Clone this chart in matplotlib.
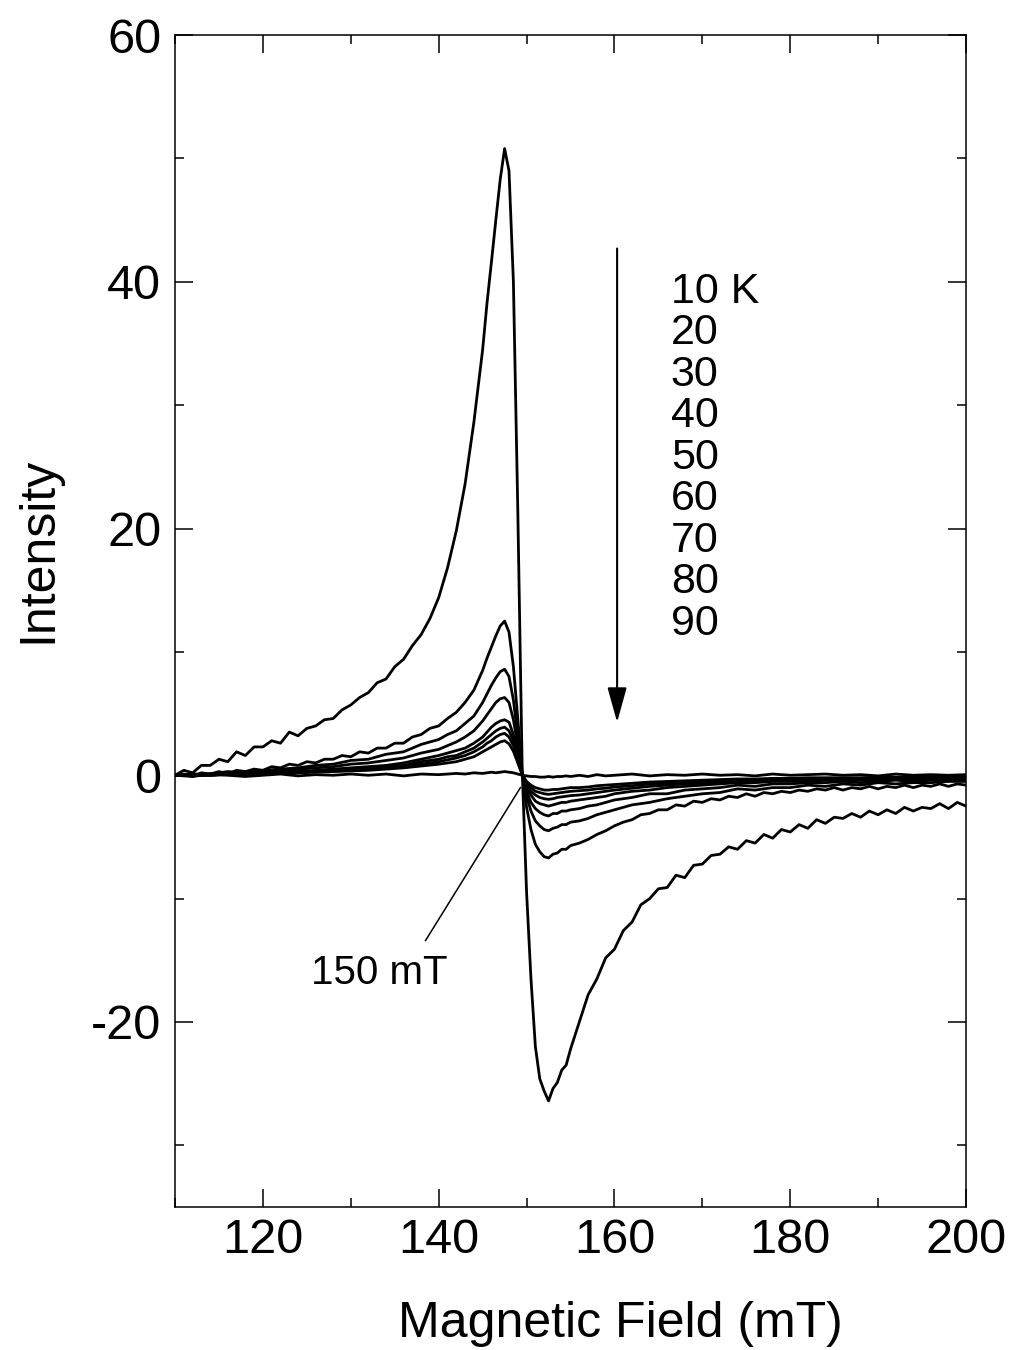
import matplotlib
matplotlib.use("Agg")
import matplotlib.pyplot as plt
from matplotlib.ticker import MultipleLocator

plt.rcParams['font.family'] = ['Liberation Sans', 'DejaVu Sans']
plt.rcParams['axes.unicode_minus'] = False

# field grid for the two strongest spectra (10 K, 20 K)
field_a = ([110, 111, 112, 113, 114, 115, 116, 117, 118, 119, 120, 121, 122, 123, 124,
            125, 126, 127, 128, 129, 130, 131, 132, 133, 134, 135, 136, 137, 138, 139,
            140, 141, 142, 143, 144]
           + [145, 145.5, 146, 146.5, 147, 147.5, 148, 148.5, 149, 149.5, 150, 150.5,
              151, 151.5, 152, 152.5, 153, 153.5, 154, 154.5, 155]
           + [156, 157, 158, 159, 160, 161, 162, 163, 164, 165, 166, 167, 168, 169, 170,
              171, 172, 173, 174, 175, 176, 177, 178, 179, 180, 181, 182, 183, 184, 185,
              186, 187, 188, 189, 190, 191, 192, 193, 194, 195, 196, 197, 198, 199, 200])

t10 = [0.0, 0.4, 0.2, 0.8, 0.8, 1.3, 1.1, 1.9, 1.6, 2.3, 2.3, 2.8, 2.6, 3.5, 3.2,
       3.8, 4.0, 4.5, 4.6, 5.3, 5.7, 6.3, 6.7, 7.5, 7.8, 8.8, 9.4, 10.5, 11.4, 12.7,
       14.4, 16.8, 19.8, 23.6, 28.6,
       34.5, 38.3, 41.6, 45.0, 48.3, 50.8, 49.0, 40.0, 21.5, 0.5, -9.5, -16.5,
       -22.0, -24.6, -25.6, -26.4, -25.4, -24.9, -23.9, -23.5, -22.2,
       -20.0, -17.8, -16.5, -14.8, -14.1, -12.6, -11.9, -10.5, -10.0, -9.2, -9.1, -8.1,
       -8.3, -7.3, -7.2, -6.5, -6.4, -5.8, -6.0, -5.3, -5.5, -4.8, -5.1, -4.4, -4.6,
       -4.0, -4.3, -3.6, -3.9, -3.4, -3.5, -3.1, -3.4, -2.9, -3.2, -2.8, -3.1, -2.6,
       -2.9, -2.6, -2.7, -2.3, -2.7, -2.2, -2.5]

t20 = [0.0, 0.1, -0.1, 0.2, 0.1, 0.3, 0.1, 0.4, 0.3, 0.5, 0.4, 0.7, 0.6, 0.9, 0.8,
       1.1, 1.0, 1.3, 1.3, 1.6, 1.5, 1.9, 1.8, 2.2, 2.2, 2.6, 2.6, 3.1, 3.3, 3.8,
       4.0, 4.6, 5.1, 5.9, 6.9,
       8.5, 9.5, 10.4, 11.3, 12.1, 12.5, 11.6, 8.8, 4.6, 0.2, -2.6, -4.4,
       -5.6, -6.2, -6.6, -6.7, -6.4, -6.3, -6.0, -6.0, -5.7,
       -5.5, -5.2, -4.8, -4.5, -4.1, -3.8, -3.6, -3.2, -3.1, -2.8, -2.8, -2.4,
       -2.5, -2.1, -2.2, -1.9, -2.0, -1.7, -1.8, -1.5, -1.7, -1.4, -1.5, -1.3, -1.4,
       -1.2, -1.3, -1.1, -1.2, -1.0, -1.2, -1.0, -1.1, -0.9, -1.1, -0.9, -1.0, -0.8,
       -1.0, -0.8, -0.9, -0.7, -0.9, -0.7, -0.8]

# coarser grid for the weaker spectra (30 K .. 90 K)
field_b = ([110, 112, 114, 116, 118, 120, 122, 124, 126, 128, 130, 132, 134, 136, 138,
            140, 141, 142, 143, 144]
           + [145, 145.5, 146, 146.5, 147, 147.5, 148, 148.5, 149, 149.5, 150, 150.5,
              151, 151.5, 152, 152.5, 153, 153.5, 154, 154.5, 155]
           + [156, 157, 158, 159, 160, 162, 164, 166, 168, 170, 172, 174, 176, 178, 180,
              182, 184, 186, 188, 190, 192, 194, 196, 198, 200])

t30 = [0.0, 0.1, 0.1, 0.3, 0.2, 0.4, 0.5, 0.6, 0.8, 0.9, 1.2, 1.3, 1.7, 1.9, 2.5,
       2.9, 3.3, 3.6, 4.2, 4.8,
       5.9, 6.6, 7.3, 7.9, 8.4, 8.6, 8.0, 6.1, 3.2, 0.1, -1.7, -2.9,
       -3.7, -4.1, -4.4, -4.5, -4.3, -4.2, -4.0, -4.0, -3.8,
       -3.7, -3.5, -3.2, -3.0, -2.8, -2.4, -2.2, -1.9, -1.7, -1.5, -1.4, -1.1, -1.2,
       -1.0, -1.0, -0.8, -0.9, -0.7, -0.8, -0.6, -0.7, -0.6, -0.6, -0.5, -0.5]

t40 = [0.0, 0.0, 0.1, 0.1, 0.2, 0.3, 0.3, 0.5, 0.6, 0.7, 0.9, 1.0, 1.2, 1.4, 1.8,
       2.1, 2.4, 2.7, 3.1, 3.6,
       4.4, 4.9, 5.4, 5.9, 6.2, 6.3, 5.9, 4.5, 2.4, 0.1, -1.3, -2.2,
       -2.7, -3.0, -3.2, -3.3, -3.1, -3.1, -2.9, -2.9, -2.8,
       -2.7, -2.5, -2.4, -2.2, -2.0, -1.8, -1.5, -1.5, -1.2, -1.1, -1.0, -0.8, -0.9,
       -0.7, -0.7, -0.6, -0.6, -0.5, -0.6, -0.5, -0.4, -0.5, -0.4, -0.4, -0.4]

t50 = [0.0, 0.0, 0.1, 0.1, 0.1, 0.2, 0.3, 0.3, 0.4, 0.5, 0.6, 0.7, 0.8, 1.0, 1.3,
       1.6, 1.8, 2.0, 2.2, 2.6,
       3.1, 3.5, 3.9, 4.2, 4.4, 4.5, 4.3, 3.3, 1.7, 0.1, -1.0, -1.6,
       -2.1, -2.3, -2.4, -2.5, -2.4, -2.3, -2.2, -2.2, -2.1,
       -2.0, -1.9, -1.8, -1.7, -1.5, -1.3, -1.2, -1.0, -0.9, -0.8, -0.7, -0.6, -0.6,
       -0.5, -0.5, -0.5, -0.4, -0.4, -0.4, -0.4, -0.3, -0.3, -0.3, -0.3, -0.3]

t60 = [0.0, 0.0, 0.0, 0.1, 0.1, 0.2, 0.2, 0.3, 0.3, 0.4, 0.5, 0.6, 0.7, 0.8, 1.1,
       1.3, 1.5, 1.6, 1.9, 2.2,
       2.7, 3.0, 3.3, 3.6, 3.8, 3.9, 3.6, 2.8, 1.5, 0.1, -0.8, -1.3,
       -1.6, -1.8, -1.9, -1.95, -1.9, -1.8, -1.75, -1.7, -1.65,
       -1.6, -1.5, -1.4, -1.3, -1.2, -1.05, -0.9, -0.8, -0.7, -0.65, -0.55, -0.5, -0.45,
       -0.4, -0.4, -0.35, -0.35, -0.3, -0.3, -0.3, -0.25, -0.25, -0.25, -0.2, -0.2]

t70 = [0.0, 0.0, 0.0, 0.1, 0.1, 0.1, 0.2, 0.2, 0.3, 0.35, 0.4, 0.5, 0.6, 0.7, 0.9,
       1.1, 1.25, 1.4, 1.6, 1.9,
       2.3, 2.6, 2.8, 3.1, 3.3, 3.4, 3.1, 2.4, 1.2, 0.05, -0.6, -1.0,
       -1.3, -1.4, -1.5, -1.55, -1.5, -1.45, -1.4, -1.35, -1.3,
       -1.25, -1.2, -1.1, -1.05, -0.95, -0.85, -0.7, -0.65, -0.55, -0.5, -0.45, -0.4, -0.35,
       -0.35, -0.3, -0.3, -0.25, -0.25, -0.25, -0.2, -0.2, -0.2, -0.2, -0.15, -0.15]

t80 = [0.0, 0.0, 0.0, 0.05, 0.1, 0.1, 0.15, 0.2, 0.25, 0.3, 0.35, 0.4, 0.5, 0.6, 0.75,
       0.9, 1.0, 1.1, 1.3, 1.5,
       1.9, 2.1, 2.3, 2.5, 2.7, 2.8, 2.55, 1.95, 1.0, 0.05, -0.5, -0.8,
       -1.0, -1.1, -1.2, -1.2, -1.15, -1.15, -1.1, -1.05, -1.0,
       -1.0, -0.95, -0.85, -0.8, -0.75, -0.65, -0.55, -0.5, -0.45, -0.4, -0.35, -0.3, -0.3,
       -0.25, -0.25, -0.2, -0.2, -0.2, -0.2, -0.15, -0.15, -0.15, -0.15, -0.1, -0.1]

t90 = [0.0, -0.1, 0.1, 0.0, -0.1, 0.0, 0.1, -0.05, 0.05, 0.0, 0.1, 0.0, 0.1, -0.05, 0.1,
       0.05, 0.1, 0.15, 0.1, 0.2,
       0.15, 0.2, 0.25, 0.2, 0.25, 0.3, 0.25, 0.2, 0.1, 0.0, -0.05, -0.1,
       -0.1, -0.15, -0.15, -0.1, -0.15, -0.1, -0.1, -0.05, -0.1,
       0.0, -0.1, 0.05, -0.05, 0.0, 0.1, -0.05, 0.05, 0.0, 0.1, 0.0, 0.05, -0.05,
       0.1, 0.0, 0.05, 0.1, 0.0, 0.05, -0.05, 0.1, 0.0, 0.05, 0.0, 0.05]

temp_labels = ['10 K', '20', '30', '40', '50', '60', '70', '80', '90']


def main():
    fig = plt.figure(figsize=(10.14, 13.5), dpi=100)
    ax = fig.add_axes([0.1726, 0.1059, 0.7801, 0.8681])

    lw = 2.0
    ax.plot(field_a, t10, color='k', lw=lw)
    ax.plot(field_a, t20, color='k', lw=lw)
    for series in (t30, t40, t50, t60, t70, t80, t90):
        ax.plot(field_b, series, color='k', lw=lw)

    ax.set_xlim(110, 200)
    ax.set_ylim(-35, 60)
    ax.xaxis.set_major_locator(MultipleLocator(20))
    ax.xaxis.set_minor_locator(MultipleLocator(10))
    ax.yaxis.set_major_locator(MultipleLocator(20))
    ax.yaxis.set_minor_locator(MultipleLocator(10))
    ax.tick_params(which='both', direction='in', top=True, right=True, width=1.1)
    ax.tick_params(which='major', length=13, labelsize=35)
    ax.tick_params(axis='x', which='major', pad=8)
    ax.tick_params(axis='y', which='major', pad=10)
    ax.tick_params(which='minor', length=6.5)
    for sp in ax.spines.values():
        sp.set_linewidth(1.1)

    ax.set_xlabel('Magnetic Field (mT)', fontsize=36, labelpad=27)
    ax.set_ylabel('Intensity', fontsize=36, labelpad=21)
    # the original labels sit off-centre
    ax.xaxis.label.set_x(0.5626)
    ax.yaxis.label.set_y(0.5606)

    # temperature arrow and labels
    ax.annotate('', xy=(160.3, 4.3), xytext=(160.3, 42.7),
                arrowprops=dict(arrowstyle='-|>,head_length=1.08,head_width=0.3',
                                mutation_scale=20, lw=1.5, color='k',
                                shrinkA=0, shrinkB=0))
    ax.text(166.4, 40.8, '\n'.join(temp_labels), fontsize=31, va='top', ha='left',
            linespacing=1.048)

    # crossing point annotation
    ax.plot([138.5, 149.3], [-13.4, -1.0], color='k', lw=1.1)
    ax.text(133.2, -16.0, '150 mT', fontsize=29, ha='center', va='center')

    fig.savefig('out.png', dpi=100)


if __name__ == '__main__':
    main()
